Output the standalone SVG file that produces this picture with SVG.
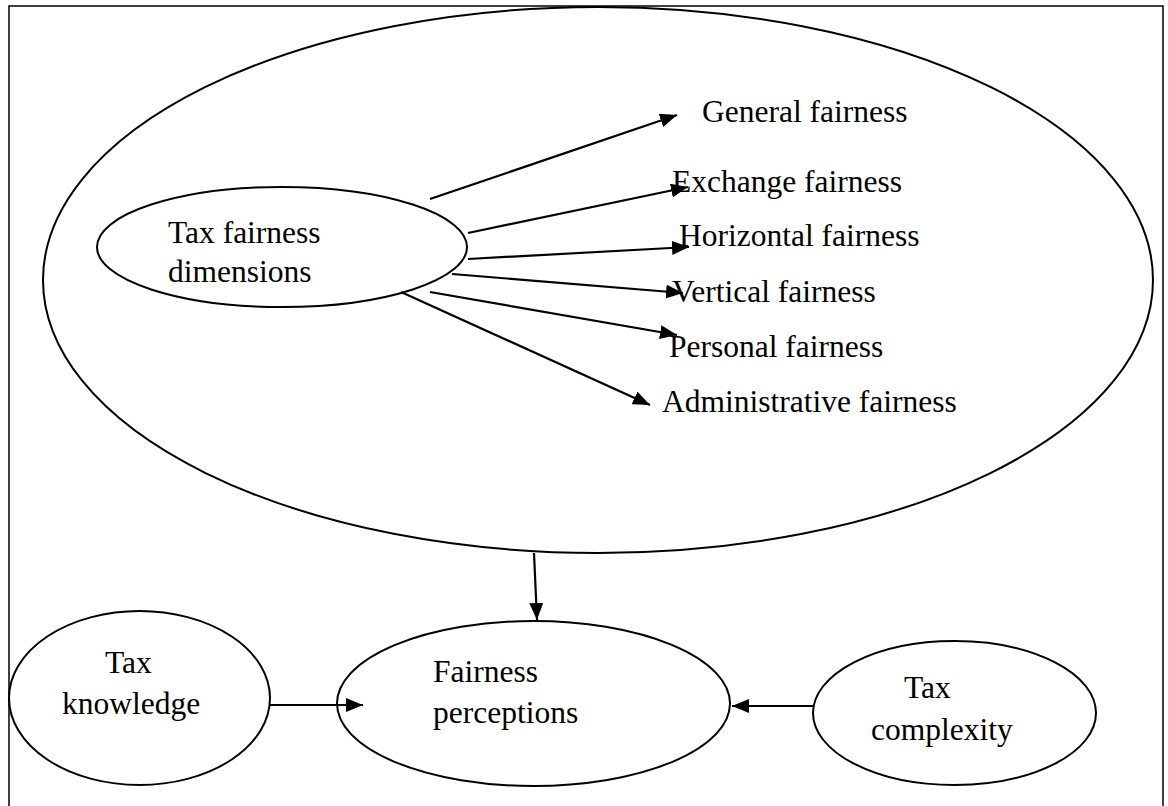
<svg xmlns="http://www.w3.org/2000/svg" width="1168" height="806" viewBox="0 0 1168 806">
<style>
.shape{fill:none;stroke:#000;stroke-width:2}
.frame{fill:#fff;stroke:#000;stroke-width:1.5}
.edge{stroke:#000;stroke-width:2.2;fill:none}
text{font-family:"Liberation Serif","Times New Roman",serif;font-size:31.5px;fill:#000}
</style>
<defs>
<marker id="ah" markerUnits="userSpaceOnUse" markerWidth="18" markerHeight="14" refX="17" refY="7" orient="auto">
<path d="M0,0 L17,7 L0,14 z" fill="#000"/>
</marker>
</defs>
<rect class="frame" x="9" y="6" width="1154" height="830"/>
<g id="outer"><ellipse class="shape" cx="598" cy="280" rx="555" ry="273"/></g>
<g id="dimensions">
<ellipse class="shape" cx="282" cy="247" rx="185" ry="60"/>
<text x="168" y="243">Tax fairness</text>
<text x="168" y="282">dimensions</text>
</g>
<g id="general"><text x="702" y="122">General fairness</text></g>
<g id="exchange"><text x="672" y="192">Exchange fairness</text></g>
<g id="horizontal"><text x="679" y="246">Horizontal fairness</text></g>
<g id="vertical"><text x="672" y="302">Vertical fairness</text></g>
<g id="personal"><text x="669" y="357">Personal fairness</text></g>
<g id="administrative"><text x="662" y="412">Administrative fairness</text></g>
<g id="perceptions">
<ellipse class="shape" cx="533.5" cy="703.5" rx="196.5" ry="82.5"/>
<text x="433" y="682">Fairness</text>
<text x="433" y="723">perceptions</text>
</g>
<g id="knowledge">
<ellipse class="shape" cx="139.5" cy="698" rx="130.5" ry="87"/>
<text x="105" y="673">Tax</text>
<text x="62" y="714">knowledge</text>
</g>
<g id="complexity">
<ellipse class="shape" cx="954.5" cy="713" rx="141.5" ry="72"/>
<text x="904" y="698">Tax</text>
<text x="871" y="740">complexity</text>
</g>
<g id="connectors">
<line class="edge" x1="430" y1="199" x2="677" y2="115" marker-end="url(#ah)"/>
<line class="edge" x1="468" y1="233" x2="688" y2="187" marker-end="url(#ah)"/>
<line class="edge" x1="468" y1="259" x2="689" y2="247" marker-end="url(#ah)"/>
<line class="edge" x1="452" y1="274" x2="683" y2="293" marker-end="url(#ah)"/>
<line class="edge" x1="430" y1="292" x2="677" y2="335" marker-end="url(#ah)"/>
<line class="edge" x1="401" y1="292" x2="650" y2="405" marker-end="url(#ah)"/>
<line class="edge" x1="534" y1="553" x2="537" y2="620" marker-end="url(#ah)"/>
<line class="edge" x1="270" y1="705" x2="363" y2="705" marker-end="url(#ah)"/>
<line class="edge" x1="813" y1="706" x2="732" y2="706" marker-end="url(#ah)"/>
</g>
</svg>
